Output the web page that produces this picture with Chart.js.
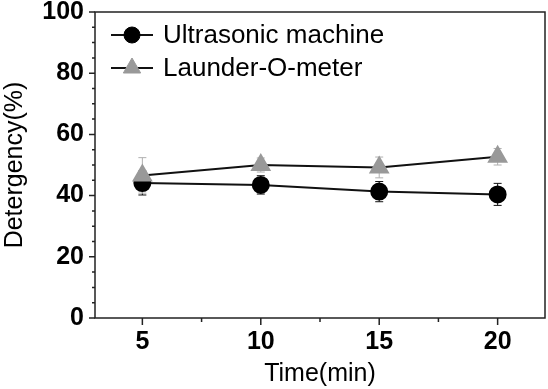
<!DOCTYPE html>
<html>
<head>
<meta charset="utf-8">
<style>
  html, body { margin: 0; padding: 0; background: #fff; }
  #wrap { width: 548px; height: 389px; }
</style>
<script src="https://cdn.jsdelivr.net/npm/chart.js@4/dist/chart.umd.min.js"></script>
</head>
<body>
<div id="wrap"><canvas id="detergencyChart" width="548" height="389"></canvas></div>
<script>
var timeValues = [5, 10, 15, 20];
var ultrasonicValues = [44.1, 43.5, 41.3, 40.4];
var ultrasonicErrors = [3.9, 3.0, 3.3, 3.6];
var launderValues = [46.6, 50.0, 49.2, 52.7];
var launderErrors = [5.8, 2.3, 3.4, 2.7];
var xMajorTicks = [5, 10, 15, 20];
var xMinorTicks = [7.5, 12.5, 17.5];
var yMajorTicks = [0, 20, 40, 60, 80, 100];
var yMinorTicks = [5, 10, 15, 25, 30, 35, 45, 50, 55, 65, 70, 75, 85, 90, 95];

var axisColor = "#222";
var tickFont = { family: "'Liberation Sans', Arial, sans-serif", size: 25, weight: "bold" };
var titleFont = { family: "'Liberation Sans', Arial, sans-serif", size: 25 };

function toPoints(xs, ys) {
  var pts = [];
  for (var i = 0; i < xs.length; i++) pts.push({ x: xs[i], y: ys[i] });
  return pts;
}

// error bars, drawn under the markers
var errorBars = {
  id: "errorBars",
  beforeDatasetsDraw: function(chart) {
    var ctx = chart.ctx;
    var xs = chart.scales.x, ys = chart.scales.y;
    chart.data.datasets.forEach(function(ds) {
      ctx.save();
      ctx.strokeStyle = ds.errorColor;
      ctx.lineWidth = 1;
      for (var i = 0; i < ds.data.length; i++) {
        var px = xs.getPixelForValue(ds.data[i].x);
        var top = ys.getPixelForValue(ds.data[i].y + ds.errors[i]);
        var bot = ys.getPixelForValue(ds.data[i].y - ds.errors[i]);
        ctx.beginPath();
        ctx.moveTo(px, top); ctx.lineTo(px, bot);
        ctx.moveTo(px - 4, top); ctx.lineTo(px + 4, top);
        ctx.moveTo(px - 4, bot); ctx.lineTo(px + 4, bot);
        ctx.stroke();
      }
      ctx.restore();
    });
  }
};

// box frame, outward ticks (long major, short minor) and the legend
var frameAndLegend = {
  id: "frameAndLegend",
  afterDraw: function(chart) {
    var ctx = chart.ctx;
    var a = chart.chartArea;
    var xs = chart.scales.x, ys = chart.scales.y;
    ctx.save();
    ctx.strokeStyle = axisColor;
    ctx.lineWidth = 1.5;
    ctx.strokeRect(a.left, a.top, a.right - a.left, a.bottom - a.top);

    ctx.beginPath();
    xMajorTicks.forEach(function(v) {
      var px = xs.getPixelForValue(v);
      ctx.moveTo(px, a.bottom); ctx.lineTo(px, a.bottom + 7);
    });
    xMinorTicks.forEach(function(v) {
      var px = xs.getPixelForValue(v);
      ctx.moveTo(px, a.bottom); ctx.lineTo(px, a.bottom + 4);
    });
    yMajorTicks.forEach(function(v) {
      var py = ys.getPixelForValue(v);
      ctx.moveTo(a.left, py); ctx.lineTo(a.left - 6, py);
    });
    yMinorTicks.forEach(function(v) {
      var py = ys.getPixelForValue(v);
      ctx.moveTo(a.left, py); ctx.lineTo(a.left - 3, py);
    });
    ctx.stroke();

    // legend: line with marker, then label
    ctx.font = "26px 'Liberation Sans', Arial, sans-serif";
    ctx.textBaseline = "middle";
    chart.data.datasets.forEach(function(ds, i) {
      var rowY = a.top + 23 + i * 33;
      var x0 = a.left + 16, x1 = a.left + 58;
      ctx.strokeStyle = ds.borderColor;
      ctx.lineWidth = ds.borderWidth;
      ctx.beginPath();
      ctx.moveTo(x0, rowY); ctx.lineTo(x1, rowY);
      ctx.stroke();
      ctx.fillStyle = ds.pointBackgroundColor;
      ctx.strokeStyle = ds.pointBorderColor;
      ctx.lineWidth = 1;
      Chart.helpers.drawPoint(ctx, {
        pointStyle: ds.pointStyle,
        radius: ds.pointRadius,
        borderWidth: 1
      }, (x0 + x1) / 2, rowY);
      ctx.fillStyle = "#000";
      ctx.fillText(ds.label, a.left + 68, rowY + 1);
    });
    ctx.restore();
  }
};

var chart = new Chart(document.getElementById("detergencyChart"), {
  type: "line",
  data: {
    datasets: [{
      label: "Ultrasonic machine",
      data: toPoints(timeValues, ultrasonicValues),
      errors: ultrasonicErrors,
      errorColor: "#111",
      borderColor: "#111",
      borderWidth: 2,
      pointStyle: "circle",
      pointRadius: 8,
      pointBackgroundColor: "#000",
      pointBorderColor: "#000",
      order: 1
    }, {
      label: "Launder-O-meter",
      data: toPoints(timeValues, launderValues),
      errors: launderErrors,
      errorColor: "#b0b0b0",
      borderColor: "#111",
      borderWidth: 2,
      pointStyle: "triangle",
      pointRadius: 10,
      pointBackgroundColor: "#999",
      pointBorderColor: "#999",
      order: 0
    }]
  },
  options: {
    responsive: false,
    animation: false,
    layout: { autoPadding: false, padding: { top: 12, right: 3, left: 0, bottom: 0 } },
    plugins: { legend: { display: false }, tooltip: { enabled: false } },
    scales: {
      x: {
        type: "linear",
        min: 3,
        max: 22,
        afterBuildTicks: function(scale) {
          scale.ticks = xMajorTicks.map(function(v) { return { value: v }; });
        },
        afterFit: function(scale) {
          scale.height = 71;
          scale.paddingLeft = 0;
          scale.paddingRight = 0;
        },
        grid: { display: false, drawTicks: false },
        border: { display: false },
        ticks: { color: "#000", font: tickFont, padding: 9, maxRotation: 0 },
        title: { display: true, text: "Time(min)", color: "#000", font: titleFont, padding: 0 }
      },
      y: {
        min: 0,
        max: 100,
        afterBuildTicks: function(scale) {
          scale.ticks = yMajorTicks.map(function(v) { return { value: v }; });
        },
        afterFit: function(scale) {
          scale.width = 95;
          scale.paddingTop = 0;
          scale.paddingBottom = 0;
        },
        grid: { display: false, drawTicks: false },
        border: { display: false },
        ticks: { color: "#000", font: tickFont, padding: 11 },
        title: { display: true, text: "Detergency(%)", color: "#000", font: titleFont, padding: 0 }
      }
    }
  },
  plugins: [errorBars, frameAndLegend]
});
</script>
</body>
</html>
